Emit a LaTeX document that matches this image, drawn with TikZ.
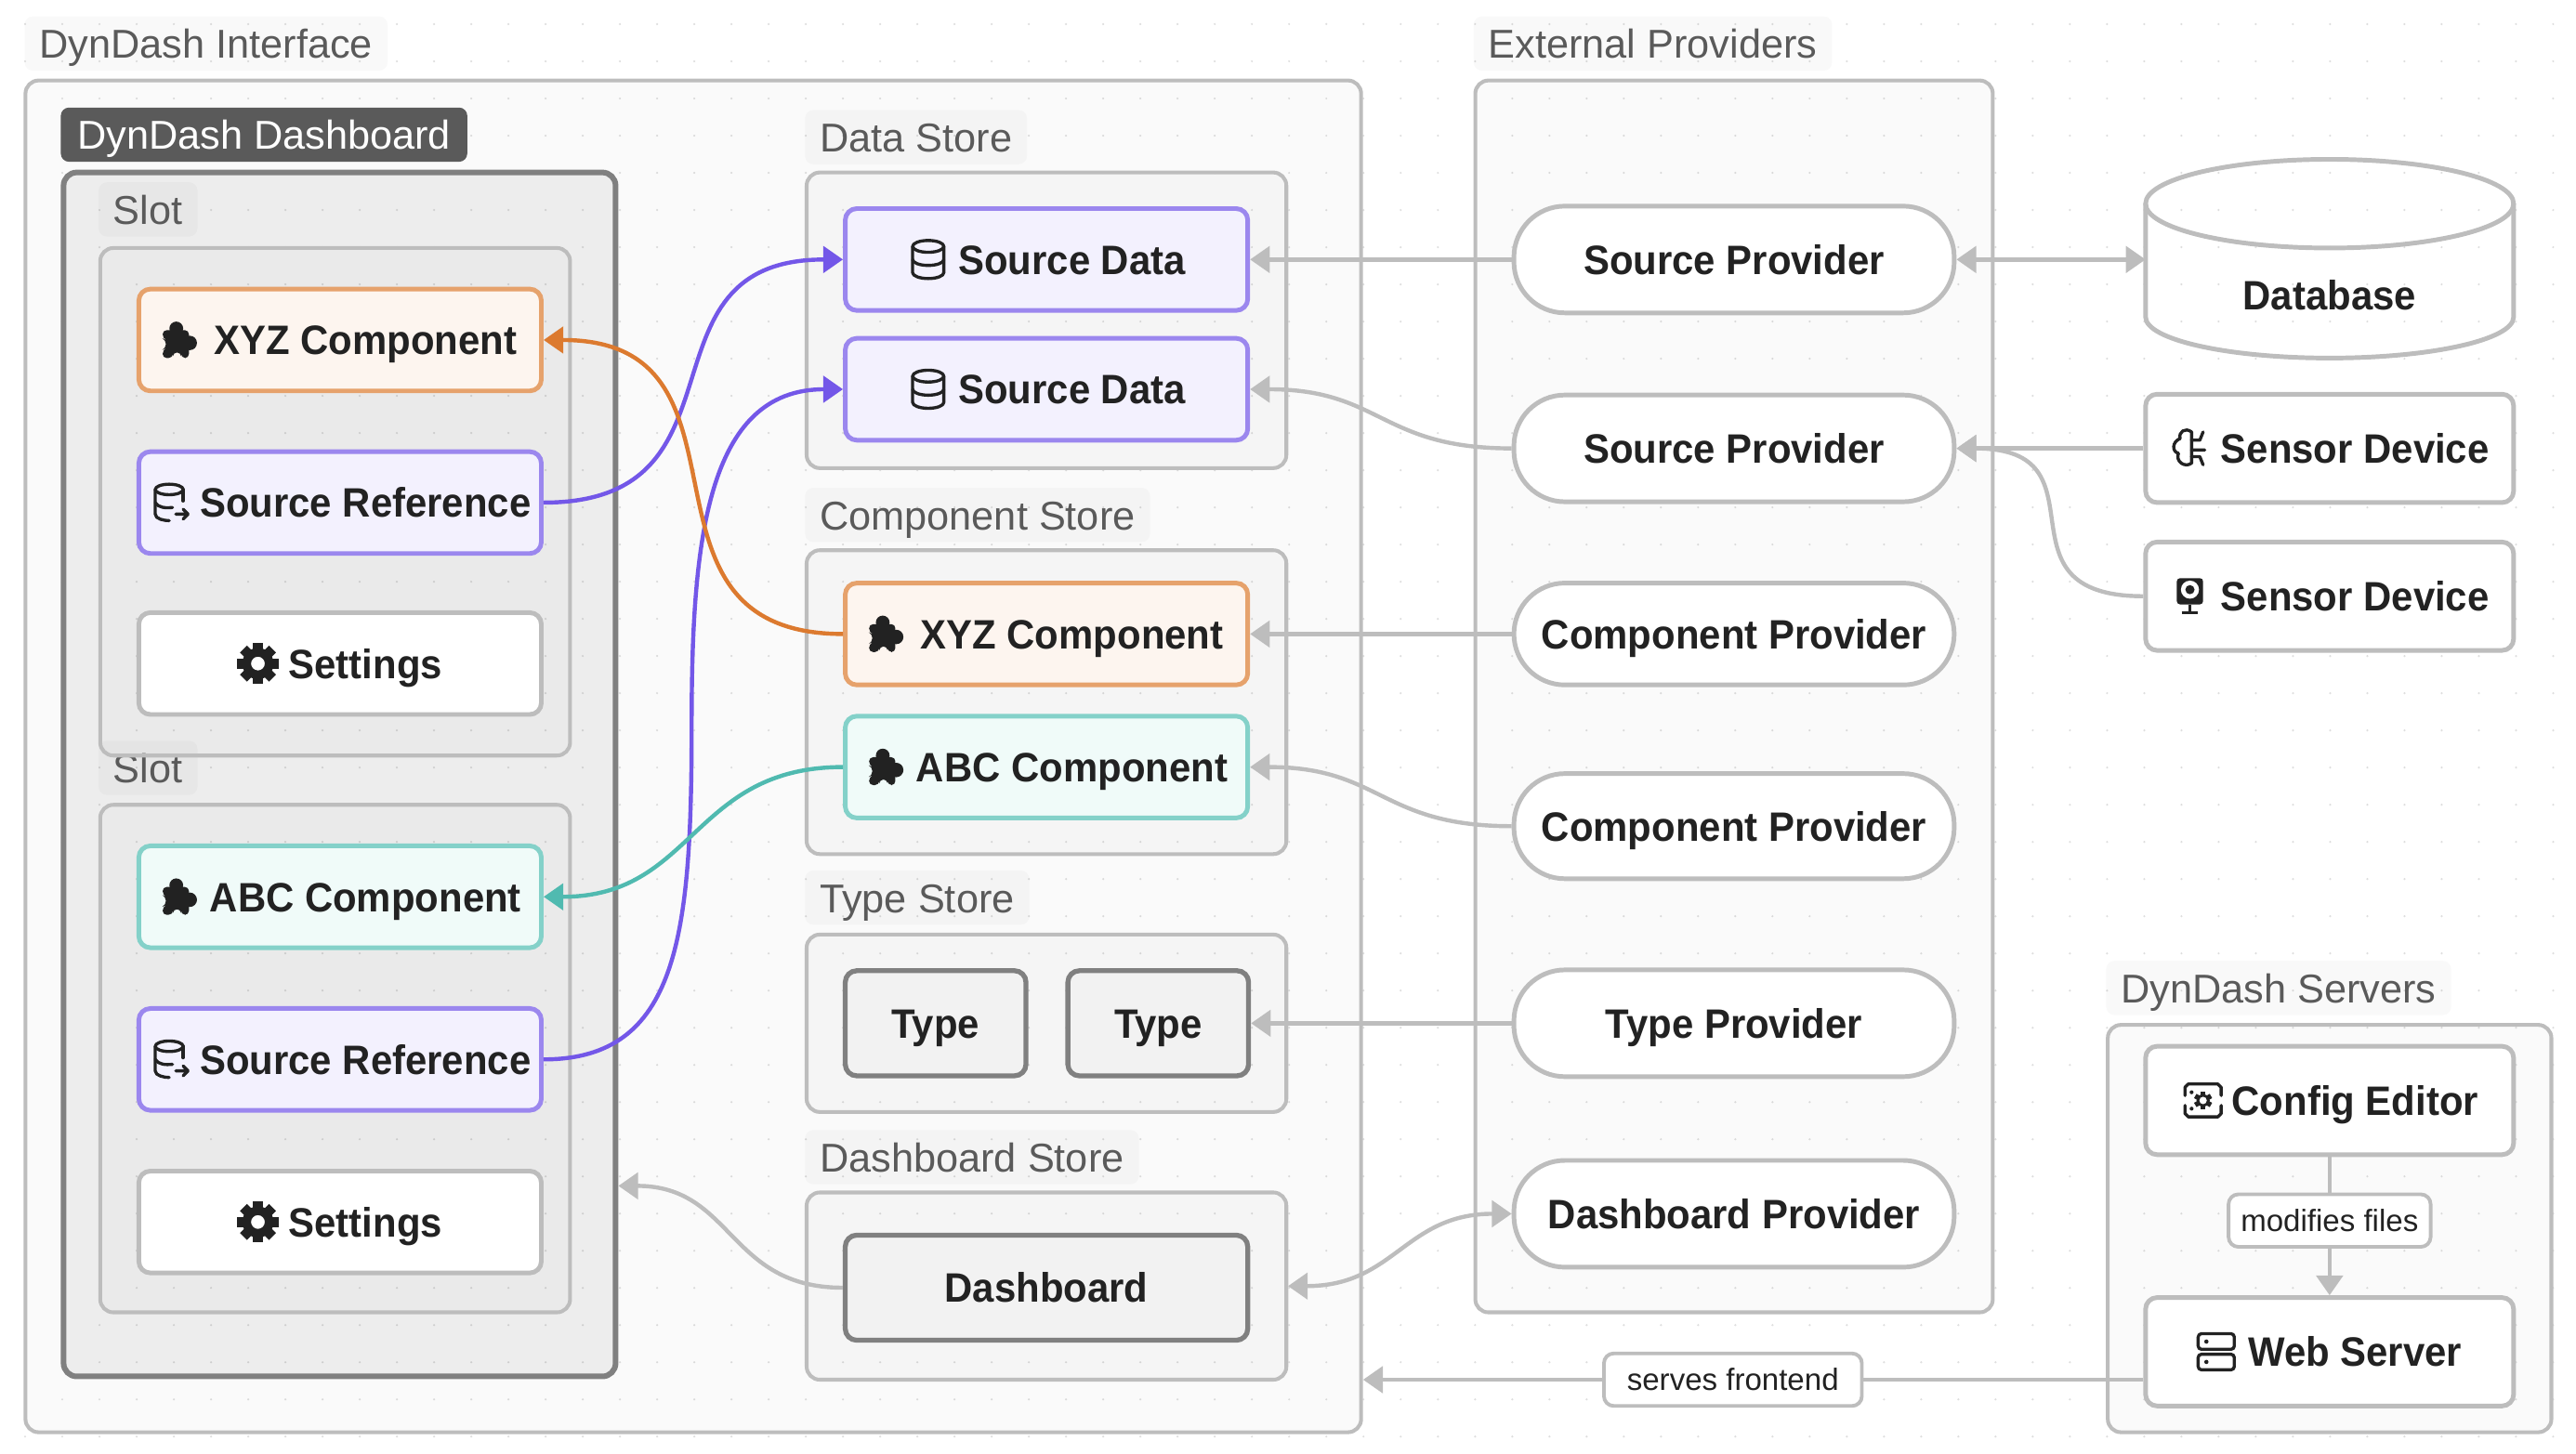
\documentclass[tikz,border=0pt]{standalone}
\usepackage{fontspec}
\setmainfont{Liberation Sans}
\newfontfamily\nodeface[FakeStretch=0.948]{Liberation Sans}
\usetikzlibrary{arrows.meta}
\definecolor{edgegray}{HTML}{BDBDBD}
\definecolor{darkgray}{HTML}{808080}
\definecolor{labelgray}{HTML}{5A5A5A}
\definecolor{inkblack}{HTML}{222222}
\definecolor{purpleline}{HTML}{7357E8}
\definecolor{purpleedge}{HTML}{9B87EE}
\definecolor{purplefill}{HTML}{F3F1FE}
\definecolor{orangeline}{HTML}{DC7A2F}
\definecolor{orangeedge}{HTML}{E6A26C}
\definecolor{orangefill}{HTML}{FDF5EF}
\definecolor{tealline}{HTML}{50BAB0}
\definecolor{tealedge}{HTML}{84D1C9}
\definecolor{tealfill}{HTML}{F0FBF9}
\newcommand{\iconroom}{\hspace*{31pt}}
\tikzset{>={Triangle[length=12pt,width=16pt]},
  groupbox/.style={draw=edgegray,line width=2.3pt,rounded corners=8,fill=black,fill opacity=.02,anchor=north west,inner sep=0,outer sep=0},
  slotbox/.style={groupbox,fill opacity=.012},
  grouplabel/.style={fill=black,fill opacity=.025,text opacity=1,text=labelgray,rounded corners=5,anchor=north west,inner xsep=9pt,inner ysep=0pt,outer sep=0,text height=25.5pt,text depth=7.5pt,font=\fontsize{24.5}{29}\selectfont},
  basebox/.style={draw=edgegray,fill=white,line width=2.8pt,rounded corners=7,inner sep=0,minimum width=245,minimum height=62,text=inkblack,text height=21pt,text depth=3pt,font=\nodeface\bfseries\fontsize{25}{30}\selectfont},
  purplebox/.style={basebox,draw=purpleedge,fill=purplefill},
  orangebox/.style={basebox,draw=orangeedge,fill=orangefill},
  tealbox/.style={basebox,draw=tealedge,fill=tealfill},
  graybox/.style={basebox,draw=darkgray,line width=3pt,fill=black!5},
  providerbox/.style={basebox,rounded corners=31,minimum width=268},
  sidebox/.style={basebox,minimum width=224,minimum height=66},
  edgelabel/.style={draw=edgegray,fill=white,line width=2.2pt,rounded corners=6,inner sep=0,minimum height=32,text=inkblack,font=\fontsize{18.7}{22}\selectfont},
  conn/.style={draw=edgegray,line width=2.5pt},
  iconline/.style={draw=inkblack,line width=1.9pt,line cap=round,line join=round},
  dbicon/.pic={
    \draw[iconline] (0,-8) ellipse (9.5pt and 3.6pt);
    \draw[iconline] (-9.5,-8) -- (-9.5,8) arc[start angle=180,end angle=360,x radius=9.5pt,y radius=3.6pt] -- (9.5,-8);
    \draw[iconline] (-9.5,0) arc[start angle=180,end angle=360,x radius=9.5pt,y radius=3.6pt];
  },
  refdbicon/.pic={
    \draw[iconline] (-1,-8) ellipse (8.5pt and 3.2pt);
    \draw[iconline] (-9.5,-8) -- (-9.5,7) .. controls (-9.5,10) and (-4,11) .. (-1,11);
    \draw[iconline] (7.5,-8) -- (7.5,-1);
    \draw[iconline] (-9.5,0) .. controls (-8,3) and (-3,3.5) .. (1,3);
    \draw[iconline] (3,7) -- (10,7) (7.5,4) -- (10.5,7) -- (7.5,10);
  },
  puzzleicon/.pic={
    \fill[inkblack,rounded corners=2.5] (-10,-6) -- (6,-6) -- (6,11) -- (1.5,11) -- (1,7.5) -- (-3.5,7.5) -- (-4,11) -- (-10,11) -- (-10,6) -- (-8,5) -- (-8,0) -- (-10,-1) -- cycle;
    \fill[inkblack] (-1.7,-7) circle (4.2pt) (6.5,1.8) circle (4.4pt);
  },
  gearicon/.pic={
    \foreach \ang in {0,45,...,315}
      \fill[inkblack,rotate=\ang] (-3,-12.5) rectangle (3,-7);
    \fill[inkblack,even odd rule] (0,0) circle (9.5pt) (0,0) circle (4.2pt);
  },
  brainicon/.pic={
    \draw[iconline] (1,-10) .. controls (-3,-13) and (-7,-10) .. (-6,-6) .. controls (-11,-4) and (-11,2) .. (-7,3) .. controls (-9,8) and (-3,12) .. (1,9) -- cycle;
    \draw[iconline] (1,-5) -- (6,-5) -- (8,-10) (1,1) -- (9,1) (1,5) -- (6,5) -- (8,10);
  },
  camicon/.pic={
    \fill[inkblack,rounded corners=2] (-8,-11) rectangle (8,5);
    \fill[white] (0,-4) circle (5.5pt);
    \fill[inkblack] (0,-4) circle (2.8pt);
    \draw[iconline,line cap=butt] (0,5) -- (0,10) (-5,10) -- (5,10);
  },
  configicon/.pic={
    \draw[iconline] (-11,-3) -- (-11,-8) -- (-9,-10) -- (9,-10) -- (11,-8) -- (11,-3);
    \draw[iconline] (-11,3) -- (-11,8) -- (-9,10) -- (9,10) -- (11,8) -- (11,3);
    \foreach \ang in {0,60,...,300}
      \fill[inkblack,rotate=\ang] (-1.5,-5.5) rectangle (1.5,-3);
    \draw[inkblack,line width=1.6pt] (0,0) circle (3.2pt);
    \fill[inkblack] (-7,-5) circle (1.2pt) (-7,5) circle (1.2pt);
  },
  servericon/.pic={
    \draw[iconline,rounded corners=2] (-11,-11) rectangle (11,-1.5);
    \draw[iconline,rounded corners=2] (-11,1.5) rectangle (11,11);
    \fill[inkblack] (-6,-6.2) circle (1.3pt) (-6,6.2) circle (1.3pt);
  }
}
\begin{document}
\begin{tikzpicture}[x=1pt,y=-1pt]
\useasboundingbox (0,0) rectangle (1568,885.25);
% dotted canvas
\foreach \i in {0,...,68}
\foreach \j in {0,...,38}
\fill[black!13] (15.27+22.63*\i,14.7+22.63*\j) circle (0.7pt);

% groups
\node[grouplabel] (ifacelabel) at (15,10) {DynDash Interface};
\node[groupbox,minimum width=813,minimum height=823] (iface) at (15.5,49) {};
\node[grouplabel,inner xsep=10pt,fill=labelgray,fill opacity=1,text=white] (dashlabel) at (37,65.5) {DynDash Dashboard};
\node[groupbox,draw=darkgray,line width=3.4pt,fill opacity=.05,minimum width=336,minimum height=733] (dashpanel) at (38.7,105) {};
\node[grouplabel] (slotlabela) at (60,111) {Slot};
\node[grouplabel] (slotlabelb) at (60,451) {Slot};
\node[slotbox,minimum width=286,minimum height=309] (slota) at (61,151) {};
\node[slotbox,minimum width=286,minimum height=309] (slotb) at (61,490) {};
\node[grouplabel] (datalabel) at (490,67) {Data Store};
\node[groupbox,minimum width=292,minimum height=180] (datastore) at (491,105) {};
\node[grouplabel] (complabel) at (490,297) {Component Store};
\node[groupbox,minimum width=292,minimum height=185] (compstore) at (491,335) {};
\node[grouplabel] (typelabel) at (490,530) {Type Store};
\node[groupbox,minimum width=292,minimum height=108] (typestore) at (491,569) {};
\node[grouplabel] (dashstorelabel) at (490,688) {Dashboard Store};
\node[groupbox,minimum width=292,minimum height=114] (dashstore) at (491,726) {};
\node[grouplabel] (externallabel) at (897,10) {External Providers};
\node[groupbox,minimum width=315,minimum height=750] (external) at (898,49) {};
\node[grouplabel] (serverslabel) at (1282,585) {DynDash Servers};
\node[groupbox,minimum width=270,minimum height=248] (servers) at (1283,624) {};

% slots
\node[orangebox] (xyzslot) at (207,207) {\iconroom XYZ Component};
\node[purplebox] (srefa) at (207,306) {\iconroom Source Reference};
\node[basebox] (setta) at (207,404) {\iconroom Settings};
\node[tealbox] (abcslot) at (207,546) {\iconroom ABC Component};
\node[purplebox] (srefb) at (207,645) {\iconroom Source Reference};
\node[basebox] (settb) at (207,744) {\iconroom Settings};
% stores
\node[purplebox] (sdataa) at (637,158) {\iconroom Source Data};
\node[purplebox] (sdatab) at (637,237) {\iconroom Source Data};
\node[orangebox] (xyzstore) at (637,386) {\iconroom XYZ Component};
\node[tealbox] (abcstore) at (637,467) {\iconroom ABC Component};
\node[graybox,minimum width=110,minimum height=64] (typea) at (569.5,623) {Type};
\node[graybox,minimum width=110,minimum height=64] (typeb) at (705,623) {Type};
\node[graybox,minimum height=64] (dashboard) at (637,784) {Dashboard};
% providers
\node[providerbox,minimum height=65] (srcprova) at (1055.5,158) {Source Provider};
\node[providerbox,minimum height=65] (srcprovb) at (1055.5,273) {Source Provider};
\node[providerbox] (compprova) at (1055.5,386) {Component Provider};
\node[providerbox,minimum height=64] (compprovb) at (1055.5,503) {Component Provider};
\node[providerbox,minimum height=65] (typeprov) at (1055.5,623) {Type Provider};
\node[providerbox,minimum height=65] (dashprov) at (1055.5,739) {Dashboard Provider};
% right column
\node[basebox,draw=none,fill=none,minimum width=221.2,minimum height=122,text height=61pt,text depth=0pt] (database) at (1418,158) {Database};
\draw[edgegray,line width=2.8pt] (database.west |- 0,124) -- (database.west |- 0,193) arc[start angle=180,end angle=360,x radius=112pt,y radius=25pt] -- (database.east |- 0,124);
\draw[edgegray,line width=2.8pt] (database.center |- 0,124) ellipse (112pt and 27pt);
\node[sidebox] (sensora) at (1418,273) {\iconroom Sensor Device};
\node[sidebox] (sensorb) at (1418,363) {\iconroom Sensor Device};
\node[sidebox] (editor) at (1418,670) {\iconroom Config Editor};
\node[sidebox] (websrv) at (1418,823) {\iconroom Web Server};

% icons
\foreach \nd/\ic/\off in {xyzslot/puzzleicon/98,xyzstore/puzzleicon/98,abcslot/puzzleicon/98,abcstore/puzzleicon/98,
  srefa/refdbicon/103,srefb/refdbicon/103,setta/gearicon/50,settb/gearicon/50,sdataa/dbicon/72,sdatab/dbicon/72,
  sensora/brainicon/85,sensorb/camicon/85,editor/configicon/77,websrv/servericon/69}
\path (\nd.center) ++(-\off,0) pic {\ic};

% connectors
\draw[conn,->] (srcprova.west) -- (sdataa.east);
\draw[conn,->] (srcprovb.west) .. controls +(-80,0) and +(80,0) .. (sdatab.east);
\draw[conn,->] (compprova.west) -- (xyzstore.east);
\draw[conn,->] (compprovb.west) .. controls +(-80,0) and +(80,0) .. (abcstore.east);
\draw[conn,->] (typeprov.west) -- (typeb.east);
\draw[conn,<->] ([xshift=1pt]dashstore.east) .. controls +(65,0) and +(-65,0) .. (dashprov.west);
\draw[conn,->] (dashboard.west) .. controls +(-70,0) and +(70,0) .. ([xshift=1.7pt,yshift=-250.5pt]dashpanel.east);
\draw[conn,<->] (srcprova.east) -- (database.west);
\draw[conn,->] (sensora.west) -- (srcprovb.east);
\draw[conn,->] (sensorb.west) .. controls +(-95,0) and +(95,0) .. (srcprovb.east);
\draw[conn,->] (editor.south) -- node[edgelabel,pos=.46,minimum width=123] (modlabel) {modifies files} (websrv.north);
\draw[conn,->] ([yshift=-17pt]websrv.west) -- node[edgelabel,pos=.526,minimum width=157] (serveslabel) {serves frontend} ([xshift=1.2pt,yshift=-17pt]websrv.west -| iface.east);
\draw[line width=2.5pt,purpleline,->] (srefa.east) .. controls +(130,0) and +(-130,0) .. (sdataa.west);
\draw[line width=2.5pt,purpleline,->] (srefb.east) .. controls +(82,0) and (421,570) .. (421,441) .. controls (421,330) and (430,237) .. (sdatab.west);
\draw[line width=2.5pt,orangeline,->] (xyzstore.west) .. controls +(-140,0) and +(140,0) .. (xyzslot.east);
\draw[line width=2.5pt,tealline,->] (abcstore.west) .. controls +(-92,0) and +(92,0) .. (abcslot.east);
\end{tikzpicture}
\end{document}
